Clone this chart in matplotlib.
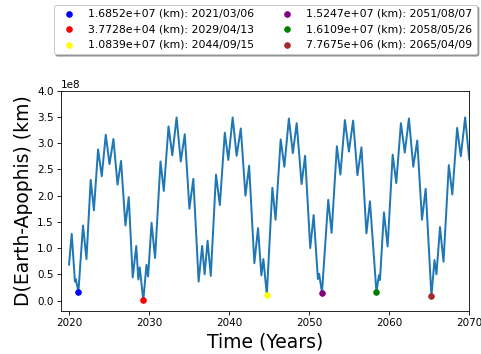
import matplotlib
matplotlib.use("Agg")
import matplotlib.pyplot as plt
import numpy as np
from datetime import date

# Curve samples (decimal year, distance in 1e8 km)
years = [2020.00, 2020.34, 2020.74, 2020.84, 2021.175, 2021.75, 2022.18, 2022.71, 2023.11, 2023.63,
         2024.09, 2024.59, 2025.06, 2025.55, 2026.06, 2026.50, 2027.05, 2027.46, 2027.96, 2028.40,
         2028.66, 2028.84, 2029.28, 2029.68, 2029.88, 2030.31, 2030.75, 2031.43, 2031.84, 2032.43,
         2032.90, 2033.44, 2033.96, 2034.46, 2035.04, 2035.53, 2036.19, 2036.63, 2036.94, 2037.31,
         2037.71, 2038.36, 2038.84, 2039.46, 2039.90, 2040.44, 2040.94, 2041.46, 2042.04, 2042.50,
         2043.15, 2043.61, 2044.03, 2044.28, 2044.71, 2045.40, 2045.80, 2046.44, 2046.90, 2047.46,
         2047.96, 2048.44, 2049.05, 2049.49, 2050.13, 2050.56, 2051.09, 2051.24, 2051.60, 2052.38,
         2052.80, 2053.46, 2053.90, 2054.46, 2054.96, 2055.49, 2056.03, 2056.53, 2057.15, 2057.59,
         2058.40, 2058.71, 2058.84, 2059.34, 2059.80, 2060.43, 2060.88, 2061.46, 2061.94, 2062.46,
         2063.00, 2063.50, 2064.09, 2064.55, 2065.27, 2065.65, 2065.90, 2066.34, 2066.78, 2067.44,
         2067.88, 2068.48, 2068.94, 2069.48, 2070.00]
dist_1e8 = [0.68, 1.27, 0.36, 0.41, 0.1685, 1.43, 0.79, 2.30, 1.72, 2.88,
            2.37, 3.16, 2.60, 3.08, 2.21, 2.66, 1.43, 1.97, 0.44, 1.04,
            0.40, 0.63, 0.0004, 0.68, 0.46, 1.48, 0.81, 2.65, 2.09, 3.32,
            2.77, 3.49, 2.65, 3.17, 1.75, 2.32, 0.36, 1.04, 0.50, 1.14,
            0.47, 2.40, 1.82, 3.20, 2.68, 3.49, 2.76, 3.28, 2.00, 2.57,
            0.71, 1.38, 0.48, 0.79, 0.1084, 2.15, 1.54, 3.07, 2.55, 3.47,
            2.81, 3.38, 2.22, 2.76, 1.00, 1.63, 0.41, 0.51, 0.1525, 1.92,
            1.29, 2.94, 2.40, 3.44, 2.84, 3.43, 2.39, 2.92, 1.28, 1.89,
            0.1611, 0.48, 0.39, 1.68, 1.03, 2.78, 2.24, 3.38, 2.82, 3.47,
            2.55, 3.05, 1.54, 2.13, 0.0777, 0.77, 0.50, 1.40, 0.74, 2.58,
            2.02, 3.29, 2.75, 3.49, 2.68]

# Close approaches (legend)
min_dates = ["2021/03/06", "2029/04/13", "2044/09/15", "2051/08/07", "2058/05/26", "2065/04/09"]
min_values = [1.6852e+07, 3.7728e+04, 1.0839e+07, 1.5247e+07, 1.6109e+07, 7.7675e+06]
min_colors = ["blue", "red", "yellow", "purple", "green", "brown"]


def dec_year(s):
    y, m, d = (int(p) for p in s.split("/"))
    d0 = date(y, 1, 1)
    d1 = date(y + 1, 1, 1)
    return y + (date(y, m, d) - d0).days / (d1 - d0).days


W, H, DPI = 481, 354, 75
fig = plt.figure(figsize=(W / DPI, H / DPI), dpi=DPI)
ax = fig.add_axes([61 / W, 1 - 311 / H, (469.3 - 61) / W, (311 - 90.7) / H])

ax.plot(years, np.array(dist_1e8) * 1e8, color="#1f77b4", lw=1.9,
        solid_joinstyle="round", solid_capstyle="round")
for d, v, c in zip(min_dates, min_values, min_colors):
    ax.scatter([dec_year(d)], [v], color=c, s=28, zorder=3,
               label=f"{v:.4e} (km): {d}")

ax.set_xlim(2019, 2070)
ax.set_ylim(-0.2e8, 4.0e8)
ax.set_xticks([2020, 2030, 2040, 2050, 2060, 2070])
ax.set_yticks(np.arange(0, 4.01e8, 0.5e8))
ax.tick_params(labelsize=10)
ax.set_xlabel("Time (Years)", fontsize=18)
ax.set_ylabel("D(Earth-Apophis) (km)", fontsize=18)

ax.legend(loc="lower center", bbox_to_anchor=(0.5, 1.142), ncol=2,
          shadow=True, fontsize=10.4)

fig.savefig("out.png", dpi=DPI)
